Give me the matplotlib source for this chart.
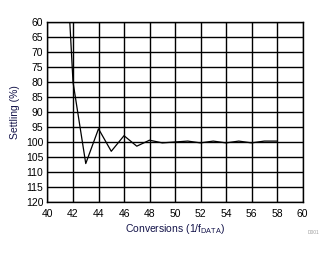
import matplotlib
matplotlib.use('Agg')
import matplotlib.pyplot as plt

# Settling response vs conversion count
conversions = [41, 42, 43, 44, 45, 46, 47, 48, 49, 50, 51, 52, 53, 54, 55, 56, 57, 58]
settling = [0.0, 80.0, 107.2, 95.6, 103.1, 97.9, 101.4, 99.4, 100.3, 100.0,
            99.7, 100.3, 99.7, 100.3, 99.7, 100.3, 99.7, 99.7]

x_ticks = list(range(40, 61, 2))
y_ticks = list(range(60, 121, 5))

label_color = '#14144a'

plt.rcParams['font.family'] = ['Liberation Sans', 'DejaVu Sans']

fig = plt.figure(figsize=(3.31, 2.54), dpi=100)
ax = fig.add_axes([0.1435, 0.205, 0.7705, 0.708])

ax.plot(conversions, settling, color='black', linewidth=0.9, zorder=3)

ax.set_xlim(40, 60)
ax.set_ylim(120, 60)
ax.set_xticks(x_ticks)
ax.set_yticks(y_ticks)
ax.grid(True, color='black', linewidth=1.0)
ax.set_axisbelow(True)
for spine in ax.spines.values():
    spine.set_linewidth(1.0)

ax.tick_params(axis='both', length=0, labelsize=7.5, colors='black')
ax.tick_params(axis='y', pad=3)
ax.tick_params(axis='x', pad=5)

ax.set_xlabel('Conversions (1/f$_{\\mathregular{DATA}}$)', fontsize=7.5,
              color=label_color, labelpad=2)
ax.set_ylabel('Settling (%)', fontsize=7.5, color=label_color, labelpad=4)

fig.text(0.948, 0.085, 'D001', fontsize=3.5, color='#a0a0a0', ha='center', va='center')

fig.savefig('out.png', dpi=100)
